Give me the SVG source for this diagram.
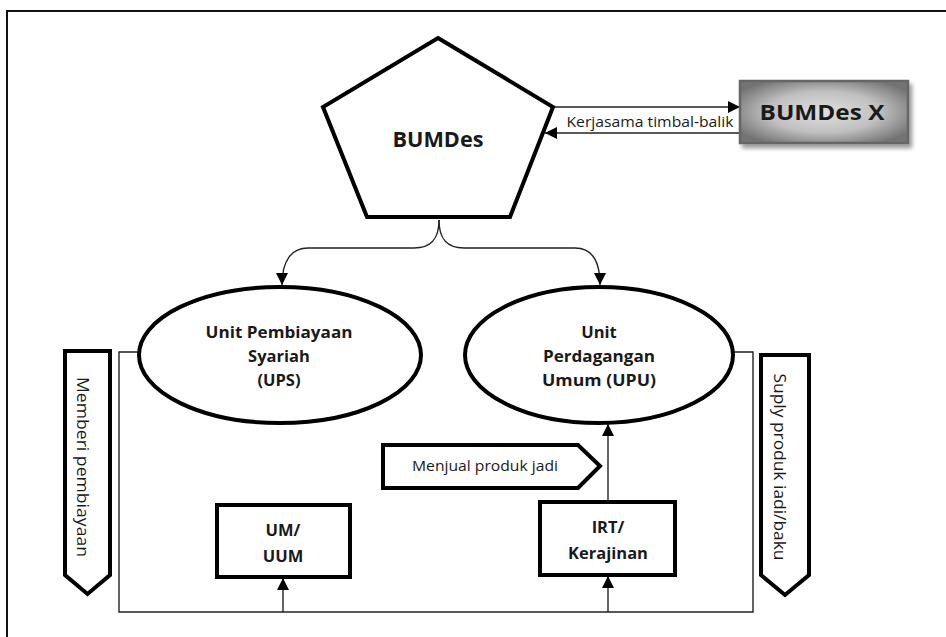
<svg xmlns="http://www.w3.org/2000/svg" width="946" height="637" viewBox="0 0 946 637">
<style>
.thick{fill:#fff;stroke:#000;stroke-width:4;stroke-linejoin:miter}
.conn{fill:none;stroke:#222;stroke-width:1.4}
.b{font-family:"Open Sans","Noto Sans",sans-serif;font-weight:bold;fill:#1a1a1a;text-anchor:middle}
.r{font-family:"Open Sans","Noto Sans",sans-serif;fill:#1a1a1a;text-anchor:middle}
</style>
<defs>
<marker id="ah" markerUnits="userSpaceOnUse" markerWidth="14" markerHeight="14" refX="12" refY="6" orient="auto">
<path d="M0,0 L12,6 L0,12 Z" fill="#000"/>
</marker>
<radialGradient id="grad" cx="50%" cy="50%" r="60%">
<stop offset="0" stop-color="#e0e0e0"/>
<stop offset="0.55" stop-color="#c0c0c0"/>
<stop offset="1" stop-color="#737373"/>
</radialGradient>
<filter id="sh" x="-10%" y="-10%" width="130%" height="140%">
<feGaussianBlur in="SourceAlpha" stdDeviation="2"/>
<feOffset dx="3" dy="4"/>
<feComponentTransfer><feFuncA type="linear" slope="0.4"/></feComponentTransfer>
<feMerge><feMergeNode/><feMergeNode in="SourceGraphic"/></feMerge>
</filter>
</defs>
<rect width="946" height="637" fill="#fff"/>
<path d="M7,637 L7,11 L946,11" fill="none" stroke="#111" stroke-width="2"/>

<g id="connectors">
<path class="conn" d="M553,107 L740,107" marker-end="url(#ah)"/>
<path class="conn" d="M740,133 L545,133" marker-end="url(#ah)"/>
<path class="conn" d="M439,220 C439,238 432,248 414,248 L308,248 C292,248 282,260 282,285" marker-end="url(#ah)"/>
<path class="conn" d="M439,220 C439,238 446,248 464,248 L575,248 C592,248 600,260 600,285" marker-end="url(#ah)"/>
<path class="conn" d="M139,352 L119,352 L119,612 L753,612 L753,352 L733,352"/>
<path class="conn" d="M283,612 L283,578" marker-end="url(#ah)"/>
<path class="conn" d="M608,612 L608,576" marker-end="url(#ah)"/>
<path class="conn" d="M608,502 L608,424" marker-end="url(#ah)"/>
</g>
<text class="r" x="650" y="127" font-size="14" textLength="167" lengthAdjust="spacingAndGlyphs">Kerjasama timbal-balik</text>

<g id="bumdes">
<polygon class="thick" points="438,38 553,107 510,217 367,217 323,107"/>
<text class="b" x="438" y="147" font-size="21" textLength="91" lengthAdjust="spacingAndGlyphs">BUMDes</text>
</g>

<g id="bumdesx">
<rect x="740" y="81" width="168" height="62" fill="url(#grad)" stroke="#666" stroke-width="2.5" filter="url(#sh)"/>
<text class="b" x="822" y="120" font-size="21" textLength="125" lengthAdjust="spacingAndGlyphs">BUMDes X</text>
</g>

<g id="ups">
<ellipse class="thick" cx="280" cy="355" rx="141" ry="68"/>
<text class="b" x="279" y="338" font-size="16.5" textLength="147" lengthAdjust="spacingAndGlyphs">Unit Pembiayaan</text>
<text class="b" x="279" y="362" font-size="16.5">Syariah</text>
<text class="b" x="279" y="386" font-size="16.5">(UPS)</text>
</g>

<g id="upu">
<ellipse class="thick" cx="599" cy="355" rx="134" ry="68"/>
<text class="b" x="599" y="338" font-size="16.5">Unit</text>
<text class="b" x="599" y="362" font-size="16.5" textLength="112" lengthAdjust="spacingAndGlyphs">Perdagangan</text>
<text class="b" x="599" y="386" font-size="16.5" textLength="114" lengthAdjust="spacingAndGlyphs">Umum (UPU)</text>
</g>

<g id="um">
<rect class="thick" x="217" y="505" width="133" height="72"/>
<text class="b" x="283" y="536" font-size="16.5">UM/</text>
<text class="b" x="283" y="562" font-size="16.5">UUM</text>
</g>

<g id="irt">
<rect class="thick" x="540" y="502" width="135" height="73"/>
<text class="b" x="608" y="533" font-size="16.5">IRT/</text>
<text class="b" x="608" y="559" font-size="16.5">Kerajinan</text>
</g>

<g id="menjual">
<path class="thick" d="M383,445 L578,445 L600,466 L578,488 L383,488 Z"/>
<text class="r" x="485" y="471" font-size="15" textLength="146" lengthAdjust="spacingAndGlyphs">Menjual produk jadi</text>
</g>

<g id="memberi">
<path class="thick" d="M65,351 L110,351 L110,575 L87.5,594 L65,575 Z"/>
<text class="r" transform="translate(77,467) rotate(90)" font-size="16.5" textLength="180" lengthAdjust="spacingAndGlyphs">Memberi pembiayaan</text>
</g>

<g id="suply">
<path class="thick" d="M761,355 L809,355 L809,575 L785,595 L761,575 Z"/>
<text class="r" transform="translate(774,467) rotate(90)" font-size="15.5" textLength="187" lengthAdjust="spacingAndGlyphs">Suply produk iadi/baku</text>
</g>
</svg>
